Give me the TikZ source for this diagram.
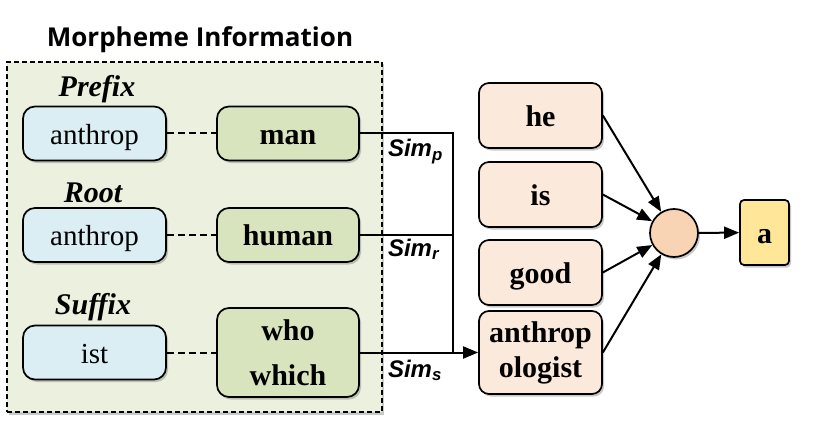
\documentclass[tikz,border=0pt]{standalone}
\usepackage{fontspec}
\setmainfont{Liberation Serif}
\setsansfont{Liberation Sans}
\newfontfamily\headfont{Open Sans}
\usetikzlibrary{positioning,shadows,arrows.meta}
\definecolor{panelgreen}{HTML}{EBF1DE}
\definecolor{rootblue}{HTML}{DAEEF3}
\definecolor{meangreen}{HTML}{D7E4BD}
\definecolor{tokpeach}{HTML}{FBE9DC}
\definecolor{poolpeach}{HTML}{F8D3B4}
\definecolor{outyellow}{HTML}{FFE699}
\tikzset{softshadow/.style={drop shadow={shadow xshift=2pt,shadow yshift=-2.5pt,opacity=0.3,fill=black!70}}}
\tikzset{oneline/.style={text height=24pt,text depth=3pt}}
\tikzset{affixbox/.style={draw,line width=1.7pt,rounded corners=12pt,fill=rootblue,minimum width=143pt,minimum height=54pt,inner sep=0pt,font=\fontsize{29}{32}\selectfont,softshadow,oneline}}
\tikzset{meanbox/.style={draw,line width=1.7pt,rounded corners=12pt,fill=meangreen,minimum width=142pt,minimum height=54pt,inner sep=0pt,align=center,font=\fontsize{30}{36}\selectfont\bfseries,softshadow}}
\tikzset{wordbox/.style={draw,line width=1.7pt,rounded corners=10pt,fill=tokpeach,minimum width=123pt,minimum height=65pt,inner sep=0pt,align=center,font=\fontsize{30}{35}\selectfont\bfseries,softshadow}}
\tikzset{typelab/.style={inner sep=0pt,anchor=base,font=\fontsize{30}{32}\selectfont\bfseries\itshape}}
\tikzset{simlab/.style={inner sep=0pt,anchor=base west,font=\fontsize{24}{26}\selectfont\sffamily\bfseries\itshape}}

\begin{document}
\begin{tikzpicture}[x=1pt,y=-1pt,>={Triangle[length=15pt,width=12pt]},line width=2pt]
    \useasboundingbox (0,0) rectangle (831,428);
    % morpheme panel
    \node[draw,dashed,dash pattern=on 5pt off 3pt,line width=1.3pt,fill=panelgreen,softshadow,minimum width=375pt,minimum height=350pt,inner sep=0pt] (panel) at (194.5,237) {};
    \node[anchor=base,font=\fontsize{26}{28}\selectfont\headfont\bfseries] (title) at (200,47) {Morpheme Information};

    \node[typelab] (prefix) at (97,96) {Prefix};
    \node[typelab] (root) at (93,202) {Root};
    \node[typelab] (suffix) at (93,314) {Suffix};

    \node[affixbox] (pre) at (94.5,133.5) {anthrop};
    \node[affixbox] (rt) at (94.5,235) {anthrop};
    \node[affixbox] (suf) at (94.5,352.5) {ist};

    \node[meanbox,oneline] (man) at (288,133.5) {man};
    \node[meanbox,oneline] (human) at (288,235) {human};
    \node[meanbox,minimum height=89pt] (who) at (288,352.5) {who\\[9pt]which};

    \draw[dash pattern=on 7pt off 4pt] (pre) -- (man);
    \draw[dash pattern=on 7pt off 4pt] (rt) -- (human);
    \draw[dash pattern=on 7pt off 4pt] (suf) -- (who);

    % sentence tokens
    \node[wordbox,oneline] (he) at (540.5,115.5) {he};
    \node[wordbox,oneline] (is) at (540.5,194.5) {is};
    \node[wordbox,oneline] (good) at (540.5,272.5) {good};
    \node[wordbox,minimum height=83pt] (anth) at (540.5,352.5) {anthrop\\ologist};

    \node[circle,draw,line width=1.7pt,fill=poolpeach,minimum size=48pt,inner sep=0pt,softshadow] (pool) at (674,233) {};
    \node[draw,line width=1.7pt,fill=outyellow,rounded corners=4pt,minimum width=49pt,minimum height=65pt,inner sep=0pt,font=\fontsize{30}{32}\selectfont\bfseries,softshadow,oneline] (out) at (764.5,232.5) {a};

    % similarity connectors
    \coordinate (bus) at (453,352.5);
    \draw (man.east) -| (bus);
    \draw (human.east) -- (human.east -| bus);
    \draw[->] (who.east) -- (anth.west);
    \node[simlab] (simp) at (387,157) {Sim\textsubscript{p}};
    \node[simlab] (simr) at (387,256) {Sim\textsubscript{r}};
    \node[simlab] (sims) at (387,377) {Sim\textsubscript{s}};

    \foreach \w in {he,is,good,anth}
        \draw[->] (\w.east) -- (pool);
    \draw[->] (pool) -- (out);
\end{tikzpicture}
\end{document}
